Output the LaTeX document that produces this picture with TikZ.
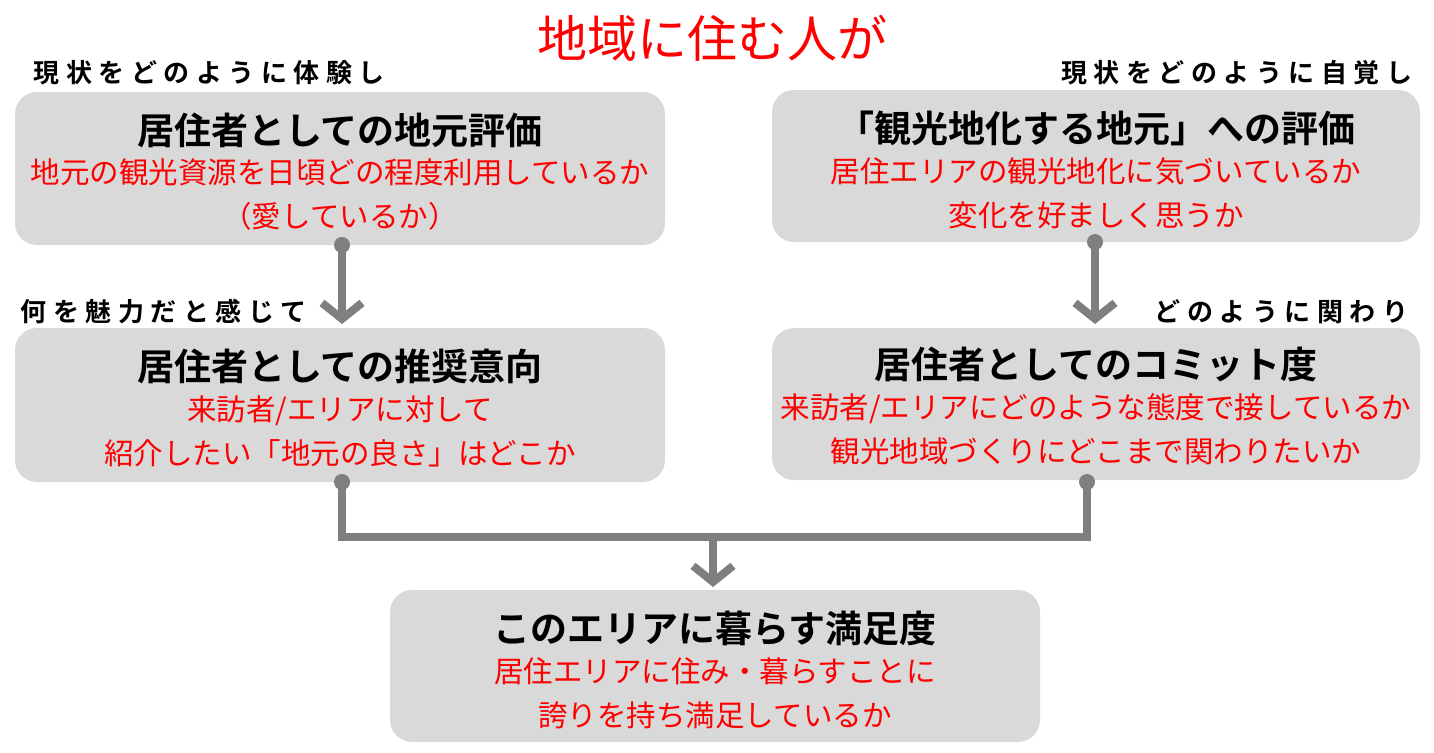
\documentclass[tikz,border=0pt]{standalone}
\usepackage{fontspec}
\setmainfont{Noto Sans CJK JP}
\newfontfamily\jpb{Noto Sans CJK JP Bold}
\newfontfamily\jpbs[LetterSpace=25]{Noto Sans CJK JP Bold}
\usetikzlibrary{arrows.meta}
\definecolor{boxg}{HTML}{D9D9D9}
\definecolor{lineg}{HTML}{7F7F7F}
\definecolor{myred}{HTML}{FF0000}
\tikzset{
  box/.style={fill=boxg,rounded corners=22pt,draw=none},
  ttl/.style={font=\jpb\fontsize{37}{42}\selectfont},
  sub/.style={font=\fontsize{29.5}{44}\selectfont,text=myred,align=center},
  lab/.style={font=\jpbs\fontsize{26}{30}\selectfont},
  con/.style={draw=lineg,line width=8pt},
  arr/.style={con,-{Straight Barb[length=16pt,width=40pt,line width=8pt]}},
  dot/.style={circle,fill=lineg,inner sep=0pt,minimum size=16pt}
}
\begin{document}
\begin{tikzpicture}[x=1pt,y=-1pt]
\useasboundingbox (0,0) rectangle (1434,752);
\fill[box] (15,92) rectangle (665,245);
\fill[box] (772,90) rectangle (1420,242);
\fill[box] (15,328) rectangle (665,482);
\fill[box] (772,328) rectangle (1420,480);
\fill[box] (390,590) rectangle (1040,742);
\node[font=\fontsize{50}{56}\selectfont,text=myred] (t) at (712,38) {地域に住む人が};
\node[lab,anchor=west] (l1) at (30,73) {現状をどのように体験し};
\node[lab,anchor=east] (l2) at (1416,73) {現状をどのように自覚し};
\node[lab,anchor=west] (l3) at (17,312) {何を魅力だと感じて};
\node[lab,anchor=east] (l4) at (1412,312) {どのように関わり};
\node[ttl] (b1) at (340,130) {居住者としての地元評価};
\node[sub] (s1) at (340,195) {地元の観光資源を日頃どの程度利用しているか\\（愛しているか）};
\node[ttl] (b2) at (1096,128) {「観光地化する地元」への評価};
\node[sub] (s2) at (1096,193) {居住エリアの観光地化に気づいているか\\変化を好ましく思うか};
\node[ttl] (b3) at (340,366) {居住者としての推奨意向};
\node[sub] (s3) at (340,431) {来訪者/エリアに対して\\紹介したい「地元の良さ」はどこか};
\node[ttl] (b4) at (1096,364) {居住者としてのコミット度};
\node[sub] (s4) at (1096,429) {来訪者/エリアにどのような態度で接しているか\\観光地域づくりにどこまで関わりたいか};
\node[ttl] (b5) at (715,628) {このエリアに暮らす満足度};
\node[sub] (s5) at (715,693) {居住エリアに住み・暮らすことに\\誇りを持ち満足しているか};
\node[dot] (d1) at (342,245) {};
\node[dot] (d2) at (1095,242) {};
\node[dot] (d3) at (342,482) {};
\node[dot] (d4) at (1087,482) {};
\coordinate (a1) at (342,324);
\coordinate (a2) at (1095,324);
\coordinate (j) at (713,537);
\coordinate (a5) at (713,587);
\draw[arr] (d1.center) -- (a1);
\draw[arr] (d2.center) -- (a2);
\draw[con] (d3.center) |- (j) -| (d4.center);
\draw[arr] (j) -- (a5);
\end{tikzpicture}
\end{document}
